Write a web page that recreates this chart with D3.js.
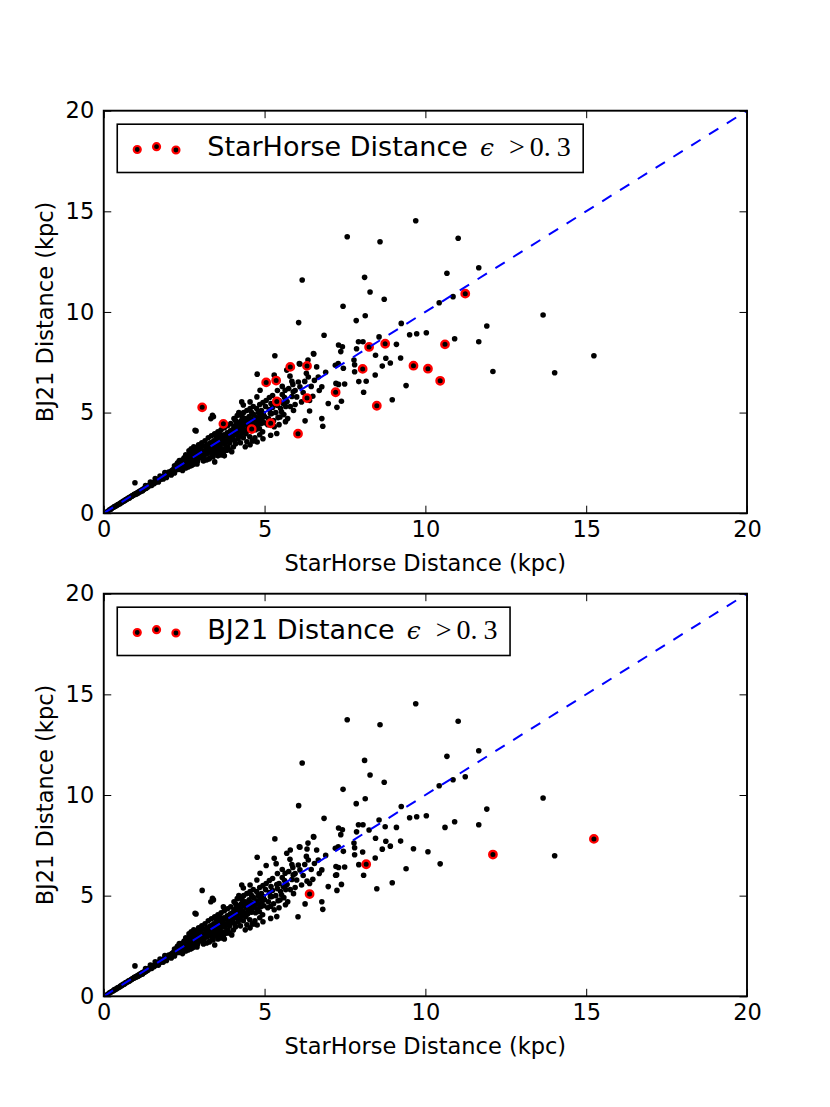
<!DOCTYPE html>
<html><head><meta charset="utf-8">
<script src="https://cdn.jsdelivr.net/npm/d3@7"></script>
<style>body{margin:0;background:#fff}</style>
</head><body>
<svg id="c" width="830" height="1107"></svg>
<script>
// All stars: [StarHorse distance (kpc), BJ21 distance (kpc)]
const stars = [
[0.12,0.1],[0.18,0.17],[0.22,0.2],[0.25,0.24],[0.3,0.28],[0.33,0.33],[0.36,0.34],[0.4,0.38],[0.43,0.42],[0.46,0.44],[0.5,0.47],[0.52,0.51],[0.55,0.53],[0.58,0.56],[0.6,0.59],[0.63,0.6],[0.66,0.64],[0.68,0.67],[0.7,0.68],[0.73,0.71],[0.76,0.74],[0.78,0.77],[0.8,0.76],[0.83,0.81],[0.86,0.83],[0.88,0.86],[0.9,0.88],[0.93,0.9],[0.95,0.94],[0.97,0.93],[0.97,1.51],
[1.0,0.98],[1.02,0.96],[1.05,1.03],[1.07,1.0],[1.1,1.08],[1.12,1.05],[1.15,1.13],[1.17,1.1],[1.2,1.18],[1.22,1.15],[1.25,1.22],[1.27,1.2],[1.3,1.28],[1.32,1.24],[1.35,1.33],[1.37,1.3],[1.4,1.36],[1.42,1.4],[1.45,1.43],[1.47,1.38],[1.5,1.47],[1.52,1.5],[1.55,1.52],[1.57,1.48],[1.6,1.58],[1.62,1.55],[1.63,1.62],[1.65,1.6],[1.68,1.66],[1.7,1.63],[1.72,1.7],[1.74,1.68],[1.76,1.74],[1.78,1.7],[1.8,1.78],[1.82,1.75],[1.84,1.82],[1.86,1.79],[1.88,1.86],[1.9,1.83],[1.92,1.9],[1.94,1.87],[1.96,1.95],[1.98,1.9],[1.6,1.72],[1.75,1.85],[1.85,1.7],[1.5,1.4],[1.3,1.38],[1.45,1.55],[1.7,1.55],[1.9,2.02],[1.2,1.1],[1.95,1.78],
[2.0,1.98],[2.02,2.05],[2.05,1.95],[2.07,2.02],[2.1,2.1],[2.12,2.0],[2.14,2.15],[2.16,2.08],[2.18,2.2],[2.2,2.12],[2.22,2.25],[2.24,2.15],[2.26,2.3],[2.28,2.2],[2.3,2.35],[2.32,2.25],[2.34,2.18],[2.36,2.4],[2.38,2.3],[2.4,2.45],[2.42,2.35],[2.44,2.25],[2.46,2.5],[2.48,2.4],[2.5,2.55],[2.52,2.45],[2.54,2.35],[2.56,2.6],[2.58,2.5],[2.6,2.4],[2.62,2.65],[2.64,2.55],[2.66,2.75],[2.68,2.45],[2.7,2.7],[2.72,2.6],[2.74,2.85],[2.76,2.5],[2.78,2.75],[2.8,2.65],[2.82,2.9],[2.84,2.55],[2.86,2.8],[2.88,2.7],[2.9,3.0],[2.92,2.6],[2.94,2.85],[2.96,2.75],[2.98,3.05],[2.3,2.5],[2.5,2.75],[2.6,2.85],[2.68,2.96],[2.55,2.25],[2.75,2.4],[2.4,2.55],[2.2,2.35],[2.1,1.9],[2.45,2.65],[2.85,3.1],[2.87,4.09],[2.84,4.12],
[2.35,2.62],[2.55,2.9],[2.65,3.1],[2.72,3.2],[2.8,3.3],[2.9,3.25],[2.95,3.4],[2.62,2.3],[2.7,2.35],[2.8,2.45],[2.9,2.45],[2.45,2.12],[2.58,2.78],[2.78,3.02],[2.2,2.0],[2.28,2.45],
[3.0,2.9],[3.02,3.2],[3.05,2.75],[3.08,3.05],[3.1,3.35],[3.12,2.85],[3.15,3.1],[3.18,3.25],[3.2,2.95],[3.22,3.4],[3.24,3.0],[3.26,3.15],[3.28,2.7],[3.3,3.3],[3.32,3.5],[3.34,3.05],[3.36,3.2],[3.38,2.9],[3.4,3.45],[3.42,3.6],[3.44,3.1],[3.45,2.55],[3.46,3.3],[3.48,3.0],[3.5,3.55],[3.52,3.25],[3.54,3.7],[3.56,3.4],[3.58,3.05],[3.6,3.6],[3.62,3.35],[3.64,3.8],[3.66,3.2],[3.68,3.5],[3.7,3.7],[3.72,3.0],[3.74,3.9],[3.76,3.45],[3.78,3.6],[3.77,3.21],[3.82,3.13],[3.8,3.85],[3.82,3.55],[3.84,4.0],[3.86,3.3],[3.88,3.75],[3.9,3.95],[3.92,3.5],[3.94,4.1],[3.96,3.65],[3.98,3.85],[4.03,3.29],[3.98,3.05],[3.38,4.87],[3.33,4.7],[3.41,4.79],
[3.05,3.5],[3.15,3.6],[3.25,3.75],[3.35,3.85],[3.45,3.95],[3.55,4.05],[3.65,4.15],[3.75,4.25],[3.85,4.35],[3.95,4.45],[3.1,2.6],[3.2,2.65],[3.3,2.75],[3.4,2.8],[3.55,2.85],[3.65,2.9],[3.75,2.85],[3.9,3.15],[3.6,3.95],[3.5,3.8],
[4.0,4.15],[4.02,3.8],[4.05,4.3],[4.08,3.6],[4.1,4.0],[4.12,4.4],[4.14,3.9],[4.16,4.2],[4.18,3.7],[4.2,4.5],[4.22,4.1],[4.24,3.85],[4.26,4.35],[4.28,4.6],[4.3,4.0],[4.32,4.25],[4.34,3.75],[4.36,4.5],[4.38,4.15],[4.4,4.7],[4.42,3.95],[4.44,4.4],[4.46,4.6],[4.48,4.1],[4.5,4.3],[4.52,4.8],[4.54,3.8],[4.56,4.5],[4.58,4.2],[4.6,4.65],[4.62,3.6],[4.64,4.4],[4.66,4.9],[4.67,3.59],[4.7,4.55],[4.72,4.15],[4.74,4.75],[4.77,3.54],[4.78,4.35],[4.8,5.0],[4.82,4.6],[4.84,4.2],[4.86,4.85],[4.88,4.45],[4.9,5.1],[4.92,4.7],[4.94,4.05],[4.96,4.95],[4.98,4.5],[4.29,5.53],[4.34,5.38],[4.55,5.53],[4.75,5.2],[4.91,5.03],[4.86,6.11],[4.76,5.78],[4.77,6.91],[4.1,4.6],[4.45,3.55],[4.2,5.0],
[4.05,4.7],[4.15,4.85],[4.25,4.9],[4.35,5.0],[4.45,5.1],[4.55,5.2],[4.65,5.3],[4.85,5.4],[4.95,5.5],[4.1,3.45],[4.25,3.5],[4.4,3.3],[4.55,3.4],[4.7,3.75],[4.85,3.9],[4.95,3.7],[4.6,5.0],[4.3,4.8],
[5.0,4.8],[5.03,5.3],[5.1,4.4],[5.12,4.7],[5.15,5.15],[5.18,4.95],[5.19,3.87],[5.2,5.45],[5.22,4.95],[5.25,5.25],[5.28,4.6],[5.3,6.86],[5.32,7.82],[5.35,5.0],[5.38,3.96],[5.4,5.35],[5.42,4.75],[5.45,5.6],[5.48,4.78],[5.5,5.2],[5.53,5.03],[5.55,5.9],[5.58,5.45],[5.6,4.9],[5.62,5.75],[5.64,6.11],[5.66,5.3],[5.69,7.11],[5.7,5.55],[5.72,4.7],[5.75,6.2],[5.79,6.81],[5.8,5.3],[5.85,5.8],[5.88,6.4],[5.89,6.03],[5.9,5.1],[5.95,6.1],[6.0,5.78],[6.05,6.52],[6.08,7.43],[6.1,6.28],[6.15,5.53],[6.17,11.59],[6.2,6.0],[6.26,4.59],[6.36,6.77],[6.4,5.6],[6.45,6.3],[6.5,5.81],[6.52,7.93],[6.55,6.6],[6.62,7.27],[6.67,6.77],[6.7,6.1],[6.78,6.28],[6.78,4.70],[6.81,4.32],[6.85,8.84],[6.9,7.0],[6.98,5.45],[6.06,9.47],[6.1,7.41],[6.35,7.61],[6.53,7.91],
[5.05,5.6],[5.15,5.75],[5.25,5.85],[5.3,4.3],[5.45,4.4],[5.55,6.3],[5.65,4.55],[5.85,6.55],[5.95,5.4],[6.25,6.55],[6.3,6.95],[5.4,6.1],
[7.39,5.56],[7.25,5.26],[7.20,7.35],[7.45,7.20],[7.37,8.03],[7.78,7.61],[7.22,6.45],[7.30,6.40],[7.49,6.42],[7.30,8.36],[7.42,8.27],[7.86,8.17],[7.92,8.52],[8.06,8.52],[8.56,8.76],[7.80,7.38],[7.80,7.03],[8.44,6.87],[7.93,6.54],[8.08,6.01],[8.45,7.85],[8.77,7.70],[8.91,7.46],[8.66,7.31],[9.23,7.71],[9.10,8.39],[9.40,6.34],[8.97,5.64],[7.29,7.43],[7.24,6.03],
[7.57,13.74],[8.59,13.49],[9.70,14.53],[11.02,13.66],[8.11,11.72],[10.67,11.92],[11.66,12.20],[8.28,10.99],[8.72,10.63],[7.44,10.28],[10.86,10.76],[10.43,10.46],[7.85,9.57],[8.13,9.81],[9.25,9.43],[11.91,9.30],[9.51,8.87],[9.73,8.92],[10.03,8.97],[10.91,8.67],[11.66,8.52],[13.66,9.85],[14.02,6.98]
];
// Stars whose StarHorse distance error > 0.3
const shErrHigh = [
[3.06,5.26],[3.72,4.44],[4.60,4.18],[5.19,4.47],[5.05,6.50],[5.36,6.59],[5.38,5.55],[5.80,7.27],[6.32,7.32],[6.32,5.72],[6.04,3.95],[7.21,6.01],[8.05,7.17],[8.25,8.26],[8.75,8.42],[8.49,5.34],[9.63,7.33],[10.08,7.18],[10.46,6.58],[10.61,8.39],[11.24,10.91]
];
// Stars whose BJ21 distance error > 0.3
const bjErrHigh = [
[6.40,5.08],[8.16,6.56],[12.10,7.04],[15.24,7.82]
];
const tickValues = [0,5,10,15,20];
const xLabel = "StarHorse Distance (kpc)";
const yLabel = "BJ21 Distance (kpc)";
const legendNames = ["StarHorse Distance", "BJ21 Distance"];
const legendMath = ["\u03F5", ">", "0.", "3"];

const svg = d3.select("#c");
const FONT = "DejaVu Sans";
const L = 103.75, R = 747;
const panels = [
  {top:110.7, bottom:513.2, red: shErrHigh, name: legendNames[0]},
  {top:593.7, bottom:996.3, red: bjErrHigh, name: legendNames[1]}
];
const allPts = stars.concat(shErrHigh, bjErrHigh);

panels.forEach(p => {
  const g = svg.append("g");
  const x = d3.scaleLinear().domain([0,20]).range([L,R]);
  const y = d3.scaleLinear().domain([0,20]).range([p.bottom,p.top]);

  g.append("g").selectAll("circle").data(allPts).join("circle")
    .attr("cx", d=>x(d[0])).attr("cy", d=>y(d[1])).attr("r", 2.8).attr("fill","#000");
  g.append("g").selectAll("circle").data(p.red).join("circle")
    .attr("cx", d=>x(d[0])).attr("cy", d=>y(d[1])).attr("r", 3.7)
    .attr("fill","#000").attr("stroke","#ff0000").attr("stroke-width",2.4);
  g.append("line")
    .attr("x1", x(0)).attr("y1", y(0)).attr("x2", x(20)).attr("y2", y(20))
    .attr("stroke","#0000ff").attr("stroke-width",2).attr("stroke-dasharray","11,10");

  const style = sel => {
    sel.select(".domain").remove();
    sel.selectAll(".tick line").attr("stroke","#000").attr("stroke-width",1);
    sel.selectAll("text").attr("font-family",FONT).attr("font-size",22.5).attr("fill","#000");
  };
  g.append("g").attr("transform",`translate(0,${p.bottom})`)
    .call(d3.axisBottom(x).tickValues(tickValues).tickSize(-7.5).tickPadding(8).tickFormat(d3.format("d"))).call(style);
  g.append("g").attr("transform",`translate(0,${p.top})`)
    .call(d3.axisTop(x).tickValues(tickValues).tickSize(-7.5).tickFormat(()=>"")).call(style);
  g.append("g").attr("transform",`translate(${L},0)`)
    .call(d3.axisLeft(y).tickValues(tickValues).tickSize(-7.5).tickPadding(9.5).tickFormat(d3.format("d"))).call(style);
  g.append("g").attr("transform",`translate(${R},0)`)
    .call(d3.axisRight(y).tickValues(tickValues).tickSize(-7.5).tickFormat(()=>"")).call(style);

  g.append("rect").attr("x",L).attr("y",p.top).attr("width",R-L).attr("height",p.bottom-p.top)
    .attr("fill","none").attr("stroke","#000").attr("stroke-width",1.9);

  g.append("text").attr("x",(L+R)/2).attr("y",p.bottom+58).attr("text-anchor","middle")
    .attr("font-family",FONT).attr("font-size",22.5).text(xLabel);
  g.append("text").attr("transform",`translate(52.5,${(p.top+p.bottom)/2}) rotate(-90)`)
    .attr("text-anchor","middle").attr("font-family",FONT).attr("font-size",22.5).text(yLabel);

  // legend
  const bx = L+13.5, by = p.top+13.5, bh = 48.3;
  const lg = g.append("g");
  const box = lg.append("rect").attr("x",bx).attr("y",by).attr("height",bh)
    .attr("fill","#fff").attr("stroke","#000").attr("stroke-width",1.6);
  const mk = [[20,25.3],[39.3,22.5],[58.7,25.8]];
  lg.selectAll("circle").data(mk).join("circle")
    .attr("cx",d=>bx+d[0]).attr("cy",d=>by+d[1]).attr("r",3.5)
    .attr("fill","#000").attr("stroke","#ff0000").attr("stroke-width",2.2);
  const t = lg.append("text").attr("x",bx+90).attr("y",by+31.5)
    .attr("font-family",FONT).attr("font-size",27).attr("fill","#000");
  t.append("tspan").text(p.name);
  t.append("tspan").attr("dx",12).attr("font-family","DejaVu Serif").attr("font-style","italic").attr("font-size",25).text(legendMath[0]);
  t.append("tspan").attr("dx",15).attr("font-family","Liberation Serif").attr("font-size",28).text(legendMath[1]);
  t.append("tspan").attr("dx",5).attr("font-family","Liberation Serif").attr("font-size",28).text(legendMath[2]);
  t.append("tspan").attr("dx",6).attr("font-family","Liberation Serif").attr("font-size",28).text(legendMath[3]);
  const bb = t.node().getBBox();
  box.attr("width", bb.x + bb.width - bx + 12.5);
});
</script>
</body></html>
